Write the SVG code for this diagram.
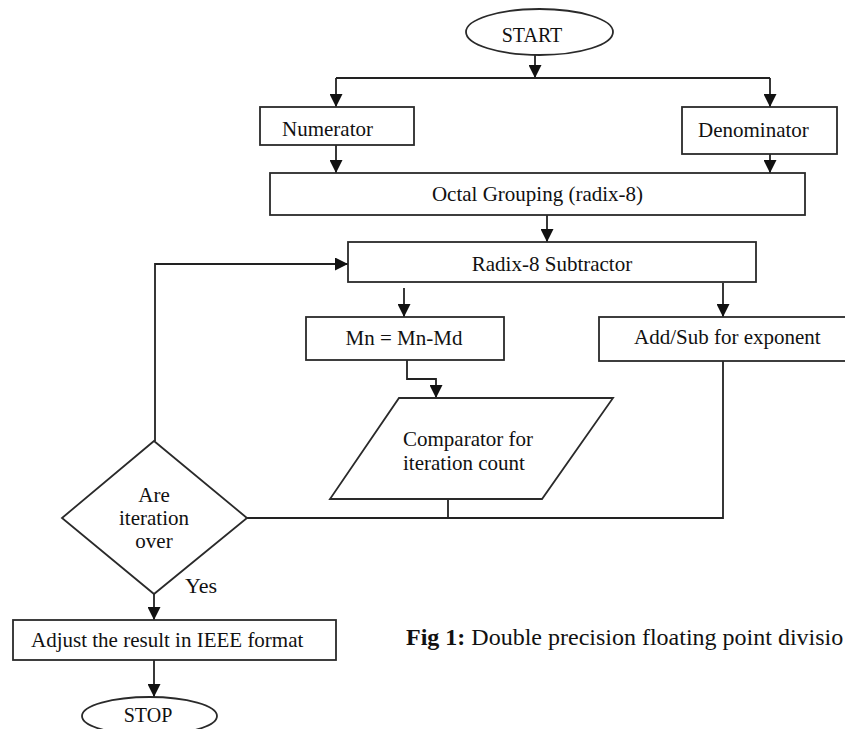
<svg xmlns="http://www.w3.org/2000/svg" width="845" height="729" viewBox="0 0 845 729">
<defs>
<marker id="ah" viewBox="0 0 13 13" refX="13" refY="6.5" markerWidth="13" markerHeight="13" markerUnits="userSpaceOnUse" orient="auto">
<path d="M0,0 L13,6.5 L0,13 Z" fill="#111"/>
</marker>
</defs>
<style>
.box{fill:#fff;stroke:#2a2a2a;stroke-width:1.8}
.t{font-family:"Liberation Serif","Times New Roman",serif;font-size:21px;fill:#111}
.c{text-anchor:middle}
.ln{fill:none;stroke:#222;stroke-width:1.8}
.ar{fill:none;stroke:#222;stroke-width:1.8;marker-end:url(#ah)}
</style>
<rect width="845" height="729" fill="#fff"/>
<g id="connectors">
<line class="ar" x1="535" y1="55" x2="535" y2="78"/>
<polyline class="ln" points="336,78 770,78"/>
<line class="ar" x1="336" y1="78" x2="336" y2="107"/>
<line class="ar" x1="770" y1="78" x2="770" y2="107"/>
<line class="ar" x1="336" y1="145" x2="336" y2="173"/>
<line class="ar" x1="770" y1="154" x2="770" y2="173"/>
<line class="ar" x1="547" y1="215" x2="547" y2="242"/>
<line class="ar" x1="404" y1="288" x2="404" y2="317"/>
<line class="ar" x1="723" y1="283" x2="723" y2="317"/>
<polyline class="ar" points="407,360 407,379 436,379 436,398"/>
<line class="ln" x1="448" y1="499" x2="448" y2="518"/>
<polyline class="ln" points="247,518 723,518 723,361"/>
<polyline class="ar" points="155,441 155,264 348,264"/>
<line class="ar" x1="154" y1="594" x2="154" y2="620"/>
<line class="ar" x1="154" y1="660" x2="154" y2="697"/>
</g>
<g id="start">
<ellipse class="box" cx="539.5" cy="32" rx="73.5" ry="23"/>
<text class="t c" x="532" y="42" style="font-size:20px">START</text>
</g>
<g id="numerator">
<rect class="box" x="260" y="107" width="154" height="38"/>
<text class="t" x="282" y="136">Numerator</text>
</g>
<g id="denominator">
<rect class="box" x="682" y="107" width="155" height="47"/>
<text class="t" x="698" y="137">Denominator</text>
</g>
<g id="octal">
<rect class="box" x="270" y="173" width="535" height="42"/>
<text class="t c" x="537.5" y="201">Octal Grouping (radix-8)</text>
</g>
<g id="subtractor">
<rect class="box" x="348" y="242" width="408" height="40"/>
<text class="t c" x="552" y="271">Radix-8 Subtractor</text>
</g>
<g id="mn">
<rect class="box" x="306" y="317" width="198" height="43"/>
<text class="t c" x="404" y="345">Mn = Mn-Md</text>
</g>
<g id="addsub">
<rect class="box" x="599" y="317" width="252" height="44"/>
<text class="t" x="634" y="344">Add/Sub for exponent</text>
</g>
<g id="comparator">
<polygon class="box" points="399,398 613,398 542,499 330,499"/>
<text class="t" x="403" y="446">Comparator for</text>
<text class="t" x="403" y="470">iteration count</text>
</g>
<g id="decision">
<polygon class="box" points="154,441 247,518 154,594 62,518"/>
<text class="t c" x="154" y="502">Are</text>
<text class="t c" x="154" y="525">iteration</text>
<text class="t c" x="154" y="548">over</text>
<text class="t" x="185" y="593" style="font-size:22px">Yes</text>
</g>
<g id="adjust">
<rect class="box" x="13" y="620" width="323" height="40"/>
<text class="t" x="31" y="647">Adjust the result in IEEE format</text>
</g>
<g id="stop">
<ellipse class="box" cx="149.5" cy="716" rx="67.5" ry="19"/>
<text class="t c" x="148" y="722" style="font-size:20px">STOP</text>
</g>
<g id="caption">
<text class="t" x="406" y="645" style="font-size:24px"><tspan style="font-weight:bold">Fig 1:</tspan> Double precision floating point divisio</text>
</g>
</svg>
